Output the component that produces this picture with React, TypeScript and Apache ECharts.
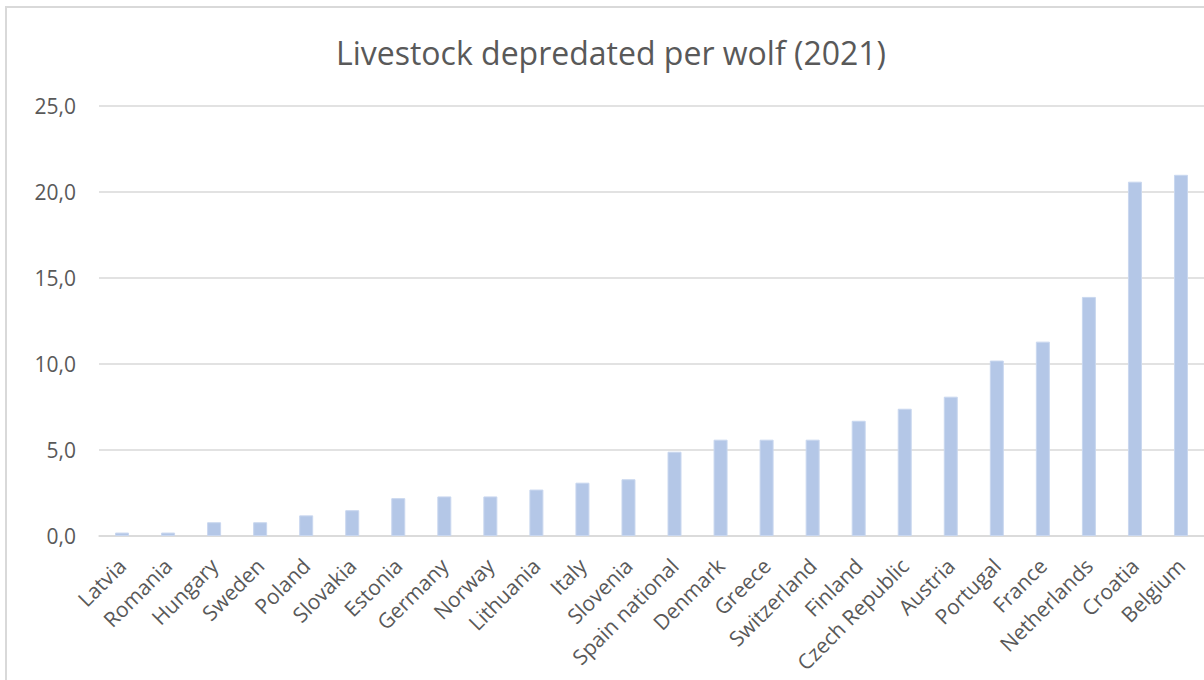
import React, { useEffect, useRef } from "react";
import * as echarts from "echarts";

const titleText = "Livestock depredated per wolf (2021)";

const countries = [
  "Latvia", "Romania", "Hungary", "Sweden", "Poland", "Slovakia", "Estonia",
  "Germany", "Norway", "Lithuania", "Italy", "Slovenia", "Spain national",
  "Denmark", "Greece", "Switzerland", "Finland", "Czech Republic", "Austria",
  "Portugal", "France", "Netherlands", "Croatia", "Belgium",
];

const livestockPerWolf = [
  0.2, 0.2, 0.8, 0.8, 1.2, 1.5, 2.2,
  2.3, 2.3, 2.7, 3.1, 3.3, 4.9,
  5.6, 5.6, 5.6, 6.7, 7.4, 8.1,
  10.2, 11.3, 13.9, 20.6, 21.0,
];

const yTicks = [0, 5, 10, 15, 20, 25];

const FONT = "'Open Sans', 'Noto Sans', sans-serif";
const TEXT = "#595959";

export default function App() {
  const ref = useRef<HTMLDivElement>(null);

  useEffect(() => {
    if (!ref.current) return;
    const chart = echarts.init(ref.current, undefined, { renderer: "svg" });
    chart.setOption({
      animation: false,
      backgroundColor: "#ffffff",
      textStyle: { fontFamily: FONT },
      graphic: [
        {
          type: "rect",
          shape: { x: 6, y: 7, width: 1400, height: 900 },
          style: { fill: "none", stroke: "#d9d9d9", lineWidth: 2 },
          silent: true,
        },
        {
          type: "text",
          x: 611,
          y: 52,
          style: {
            text: titleText,
            fill: TEXT,
            font: `32px ${FONT}`,
            textAlign: "center",
            textVerticalAlign: "middle",
          },
        },
      ],
      grid: { left: 99, right: 0, top: 106, bottom: 144, containLabel: false },
      xAxis: {
        type: "category",
        data: countries,
        axisLine: { show: true, lineStyle: { color: "#d9d9d9", width: 1.5 } },
        axisTick: { show: false },
        axisLabel: {
          rotate: 45,
          interval: 0,
          margin: 26,
          color: TEXT,
          fontSize: 21,
          fontFamily: FONT,
        },
      },
      yAxis: {
        type: "value",
        min: yTicks[0],
        max: yTicks[yTicks.length - 1],
        interval: 5,
        axisLine: { show: false },
        axisTick: { show: false },
        splitLine: { lineStyle: { color: "#d9d9d9", width: 1.5 } },
        axisLabel: {
          margin: 23,
          color: TEXT,
          fontSize: 21,
          fontFamily: FONT,
          formatter: (v: number) => v.toFixed(1).replace(".", ","),
        },
      },
      series: [
        {
          type: "bar",
          data: livestockPerWolf,
          barWidth: 14,
          itemStyle: { color: "#b4c7e7", borderColor: "#c9d7ef", borderWidth: 1 },
        },
      ],
    });
    return () => chart.dispose();
  }, []);

  return (
    <div
      ref={ref}
      style={{ position: "fixed", left: 0, top: 0, width: 1204, height: 680 }}
    />
  );
}
